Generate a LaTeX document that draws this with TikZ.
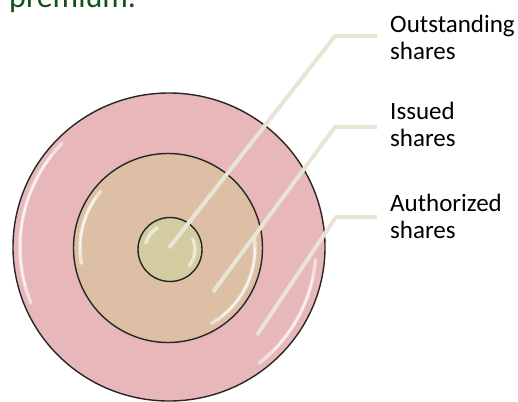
\documentclass[tikz,border=0pt]{standalone}
\usepackage{fontspec}
\setmainfont{Carlito}
\definecolor{outerpink}{RGB}{232,183,185}
\definecolor{midtan}{RGB}{221,191,166}
\definecolor{innerkh}{RGB}{211,204,160}
\definecolor{leadercol}{RGB}{233,229,212}
\definecolor{titlegreen}{RGB}{22,82,22}
\tikzset{
  ringedge/.style={draw=black!85, line width=1.4pt},
  shine/.style={white, line width=3.5pt, opacity=0.55, line cap=round},
  shinecore/.style={white, line width=1.2pt, opacity=0.8, line cap=round},
  leaderline/.style={leadercol, line width=4pt},
  lbl/.style={anchor=base west, inner sep=0pt, font=\fontsize{25}{27}\selectfont},
}
\begin{document}
\begin{tikzpicture}[x=1pt,y=-1pt]
\useasboundingbox (0,0) rectangle (518,401);
\clip (0,0) rectangle (518,401);

% title fragment (cut off at the top edge, as in the reference)
\node[anchor=base west, inner sep=0pt, text=titlegreen,
      font=\fontsize{32}{36}\selectfont] (title) at (9,8) {premium.};

% rings
\coordinate (co) at (169,247);
\coordinate (cm) at (168,248);
\coordinate (ci) at (170,249.5);
\path[fill=outerpink, ringedge] (co) ellipse [x radius=156, y radius=154];
\draw[shine] (co) ++(224:149) arc[start angle=224, end angle=158, radius=149];
\draw[shinecore] (co) ++(218:149) arc[start angle=218, end angle=165, radius=149];
\draw[shine] (co) ++(5:147) arc[start angle=5, end angle=52, radius=147];
\draw[shinecore] (co) ++(12:147) arc[start angle=12, end angle=45, radius=147];
\path[fill=midtan, ringedge] (cm) circle [radius=94.5];
\draw[shine] (cm) ++(220:88) arc[start angle=220, end angle=170, radius=88];
\draw[shinecore] (cm) ++(214:88) arc[start angle=214, end angle=178, radius=88];
\draw[shine] (cm) ++(-8:87) arc[start angle=-8, end angle=60, radius=87];
\draw[shinecore] (cm) ++(0:87) arc[start angle=0, end angle=52, radius=87];
\path[fill=innerkh, ringedge] (ci) circle [radius=32];
\draw[shine] (ci) ++(240:25) arc[start angle=240, end angle=195, radius=25];
\draw[shine] (ci) ++(-25:25) arc[start angle=-25, end angle=40, radius=25];

% labels
\node[lbl] (los) at (390,33) {\begin{tabular}[t]{@{}l@{}}Outstanding\\shares\end{tabular}};
\node[lbl] (lis) at (390,119) {\begin{tabular}[t]{@{}l@{}}Issued\\shares\end{tabular}};
\node[lbl] (lau) at (390,211) {\begin{tabular}[t]{@{}l@{}}Authorized\\shares\end{tabular}};

% leader lines
\coordinate (os1) at (377,36);  \coordinate (os2) at (335,36);  \coordinate (os3) at (169,248);
\coordinate (is1) at (377,127); \coordinate (is2) at (335,127); \coordinate (is3) at (213,292);
\coordinate (au1) at (377,217); \coordinate (au2) at (336,217); \coordinate (au3) at (257,335);
\draw[leaderline] (os1) -- (os2) -- (os3);
\draw[leaderline] (is1) -- (is2) -- (is3);
\draw[leaderline] (au1) -- (au2) -- (au3);
\end{tikzpicture}
\end{document}
